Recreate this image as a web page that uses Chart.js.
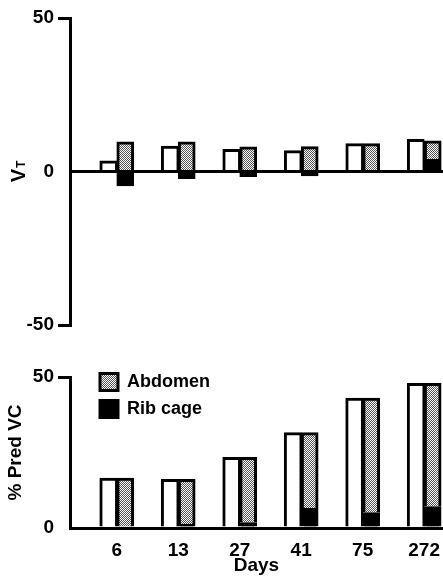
<!DOCTYPE html>
<html>
<head>
<meta charset="utf-8">
<script src="https://cdn.jsdelivr.net/npm/chart.js@4.4.1/dist/chart.umd.min.js"></script>
<style>
  html, body { margin: 0; padding: 0; background: #fff; overflow: hidden; }
  #wrap { position: relative; width: 443px; height: 577px; }
  canvas { position: absolute; left: 0; }
  #vt { top: 0; }
  #vc { top: 345px; }
</style>
</head>
<body>
<div id="wrap">
  <canvas id="vt" width="443" height="345"></canvas>
  <canvas id="vc" width="443" height="232"></canvas>
</div>
<script>
const days = ['6', '13', '27', '41', '75', '272'];

// upper panel: tidal volume
const vtTotal = [3.5, 8.3, 7.2, 6.8, 9.1, 10.5];
const vtRibCage = [-4.7, -2.3, -1.7, -1.4, 0, 4.0];
const vtAbdomen = [9.7, 9.7, 8.0, 8.1, 9.1, 6.0];
const vtTicks = [-50, 0, 50];

// lower panel: % predicted VC
const vcTotal = [16.5, 16.1, 23.4, 31.6, 43.0, 47.9];
const vcRibCage = [0, 1.3, 1.8, 6.5, 5.1, 7.1];
const vcAbdomen = [16.5, 14.8, 21.6, 25.1, 37.9, 40.8];
const vcTicks = [0, 50];

const FONT = "'Liberation Sans', Arial, sans-serif";
const CLEAR = 'rgba(0,0,0,0)';

function stipple() {
    const c = document.createElement('canvas');
    c.width = 2;
    c.height = 2;
    const g = c.getContext('2d');
    g.fillStyle = '#fff';
    g.fillRect(0, 0, 2, 2);
    g.fillStyle = '#555';
    g.fillRect(0, 0, 1, 1);
    g.fillRect(1, 1, 1, 1);
    return g.createPattern(c, 'repeat');
}

const pts = arr => arr.map((v, i) => ({ x: i, y: v }));

function datasets(total, rib, abd) {
    return [
        {
            label: 'Total',
            data: pts(total),
            stack: 'total',
            backgroundColor: '#fff',
            borderColor: '#000',
            borderWidth: { left: 3, top: 3, right: 2, bottom: 0 },
            barThickness: 17
        },
        {
            label: 'Rib cage',
            data: pts(rib),
            stack: 'parts',
            backgroundColor: '#000',
            borderColor: '#000',
            borderWidth: 3,
            barThickness: 17
        },
        {
            label: 'Abdomen',
            data: pts(abd),
            stack: 'parts',
            backgroundColor: stipple(),
            borderColor: '#000',
            borderWidth: 3,
            barThickness: 17
        }
    ];
}

function dayAxis(show) {
    return {
        type: 'linear',
        display: show,
        offset: false,
        min: -0.76,
        max: 5.305,
        stacked: true,
        afterBuildTicks: s => { s.ticks = days.map((d, i) => ({ value: i })); },
        afterFit: s => { if (show) s.height = 49; },
        ticks: {
            callback: v => days[v],
            color: '#000',
            font: { family: FONT, size: 19, weight: 'bold' },
            padding: 3,
            maxRotation: 0,
            autoSkip: false
        },
        grid: { display: false },
        border: { display: true, color: '#000', width: 3 },
        title: {
            display: show,
            text: 'Days',
            color: '#000',
            font: { family: FONT, size: 19, weight: 'bold' },
            padding: { top: 0, bottom: 0 }
        }
    };
}

function valueAxis(min, max, tickList, zeroLine) {
    return {
        min: min,
        max: max,
        stacked: true,
        afterBuildTicks: s => { s.ticks = tickList.map(v => ({ value: v })); },
        afterFit: s => { s.width = 70; },
        ticks: {
            color: '#000',
            font: { family: FONT, size: 19, weight: 'bold' },
            padding: 4,
            callback: v => String(v)
        },
        grid: {
            color: c => (zeroLine && c.tick && c.tick.value === 0) ? '#000' : CLEAR,
            lineWidth: 3,
            tickColor: c => (c.tick && c.tick.value === 0) ? CLEAR : '#000',
            tickLength: 12,
            tickWidth: 3
        },
        border: { display: true, color: '#000', width: 3 }
    };
}

// V with subscript T, drawn rotated beside the upper axis
const vtTitle = {
    id: 'vtTitle',
    afterDraw(chart) {
        const ctx = chart.ctx;
        const y0 = chart.scales.y.getPixelForValue(0);
        ctx.save();
        ctx.fillStyle = '#000';
        ctx.textBaseline = 'alphabetic';
        ctx.font = 'bold 20px ' + FONT;
        const wV = ctx.measureText('V').width;
        ctx.font = 'bold 12px ' + FONT;
        const wT = ctx.measureText('T').width;
        ctx.translate(25, y0 + (wV + wT + 1) / 2);
        ctx.rotate(-Math.PI / 2);
        ctx.font = 'bold 20px ' + FONT;
        ctx.fillText('V', 0, 0);
        ctx.font = 'bold 12px ' + FONT;
        ctx.fillText('T', wV + 1, 0);
        ctx.restore();
    }
};

// put the in-plot legend in the upper left corner of the plot
const legendNudge = {
    id: 'legendNudge',
    afterLayout(chart) {
        const lg = chart.legend;
        if (lg) {
            lg.left = chart.chartArea.left + 21;
            lg.top = chart.chartArea.top - 13;
        }
    }
};

new Chart(document.getElementById('vt'), {
    type: 'bar',
    data: { datasets: datasets(vtTotal, vtRibCage, vtAbdomen) },
    options: {
        responsive: false,
        animation: false,
        layout: { padding: { top: 18, bottom: 20, left: 0, right: 0 } },
        plugins: { legend: { display: false }, tooltip: { enabled: false } },
        scales: {
            x: dayAxis(false),
            y: valueAxis(-50, 50, vtTicks, true)
        }
    },
    plugins: [vtTitle]
});

const vcY = valueAxis(0, 50, vcTicks, false);
vcY.title = {
    display: true,
    text: '% Pred VC',
    color: '#000',
    font: { family: FONT, size: 19, weight: 'bold' },
    padding: { top: 4, bottom: 0 }
};

new Chart(document.getElementById('vc'), {
    type: 'bar',
    data: { datasets: datasets(vcTotal, vcRibCage, vcAbdomen) },
    options: {
        responsive: false,
        animation: false,
        layout: { padding: { top: 32, bottom: 0, left: 0, right: 0 } },
        plugins: {
            tooltip: { enabled: false },
            legend: {
                position: 'chartArea',
                align: 'start',
                reverse: true,
                labels: {
                    filter: item => item.text !== 'Total',
                    color: '#000',
                    font: { family: FONT, size: 18, weight: 'bold' },
                    boxWidth: 18,
                    boxHeight: 17,
                    padding: 9
                }
            }
        },
        scales: {
            x: dayAxis(true),
            y: vcY
        }
    },
    plugins: [legendNudge]
});
</script>
</body>
</html>
